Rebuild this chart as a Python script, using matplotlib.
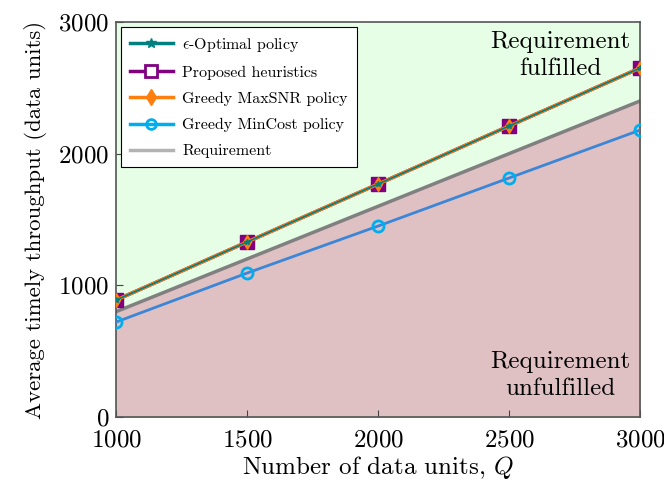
import numpy as np
import matplotlib.pyplot as plt
from matplotlib.lines import Line2D

plt.rcParams['font.family'] = 'cmr10'
plt.rcParams['mathtext.fontset'] = 'cm'
plt.rcParams['axes.formatter.use_mathtext'] = True

Q = [1000, 1500, 2000, 2500, 3000]
optimal = [888, 1329, 1769, 2210, 2650]
heuristic = [888, 1329, 1769, 2210, 2650]
maxsnr = [888, 1329, 1769, 2210, 2650]
mincost = [721, 1093, 1450, 1815, 2179]
requirement = [800, 1200, 1600, 2000, 2400]

fig = plt.figure(figsize=(6.64, 4.83), dpi=100)
ax = fig.add_axes([0.1747, 0.1366, 0.7892, 0.8179])

# shaded regions above / below the requirement
ax.fill_between(Q, requirement, 3000, color='#e6fde6', zorder=0)
ax.fill_between(Q, 0, requirement, color='#dfc1c4', zorder=0)

ax.plot(Q, requirement, color='#808080', lw=2.5, zorder=2)

ax.plot(Q, mincost, color='#3b86d6', lw=2, marker='o', ms=8, mfc='none',
        mec='#00aeef', mew=2, zorder=3)
ax.plot(Q, heuristic, color='#800080', lw=2.5, marker='s', ms=9.5, mfc='#800080',
        mec='#800080', zorder=4)
ax.plot(Q, maxsnr, color='#ff7f0e', lw=2.5, marker='d', ms=7.5, mfc='#ff7f0e',
        mec='#ff7f0e', zorder=5)
ax.plot(Q, optimal, color='#00807f', lw=1.2, marker='*', ms=4, mfc='#00807f',
        mec='#00807f', zorder=6)

ax.set_xlim(1000, 3000)
ax.set_ylim(0, 3000)
ax.set_xticks([1000, 1500, 2000, 2500, 3000])
ax.set_yticks([0, 1000, 2000, 3000])
ax.tick_params(labelsize=18, direction='in', length=5, color='#444444')
ax.tick_params(axis='x', pad=9)
ax.tick_params(axis='y', pad=5)
for s in ax.spines.values():
    s.set_color('#555555')
    s.set_linewidth(1.2)

ax.set_xlabel(r'Number of data units, $Q$', fontsize=18, labelpad=2)
ax.set_ylabel('Average timely throughput (data units)', fontsize=16.4, labelpad=8)

# region annotations, one centred line each
for label, y in [('Requirement', 2848), ('fulfilled', 2640),
                 ('Requirement', 418), ('unfulfilled', 212)]:
    ax.text(2695, y, label, fontsize=18, ha='center', va='center')

legend_items = [
    Line2D([], [], color='#00807f', lw=2.5, marker='*', ms=7,
           label=r'$\epsilon$-Optimal policy'),
    Line2D([], [], color='#800080', lw=2.5, marker='s', ms=8, mfc='white',
           mew=2, label='Proposed heuristics'),
    Line2D([], [], color='#ff7f0e', lw=2.5, marker='d', ms=8,
           label='Greedy MaxSNR policy'),
    Line2D([], [], color='#00aeef', lw=2.5, marker='o', ms=7, mfc='none',
           mew=2, label='Greedy MinCost policy'),
    Line2D([], [], color='#b3b3b3', lw=2.5, label='Requirement'),
]
leg = ax.legend(handles=legend_items, loc='upper left', fontsize=11.5,
                frameon=True, fancybox=False, edgecolor='black', framealpha=1,
                handlelength=2.7, borderaxespad=0.3, labelspacing=0.75,
                borderpad=0.55, handletextpad=0.6)
leg.get_frame().set_linewidth(0.8)

fig.savefig('out.png', dpi=100)
